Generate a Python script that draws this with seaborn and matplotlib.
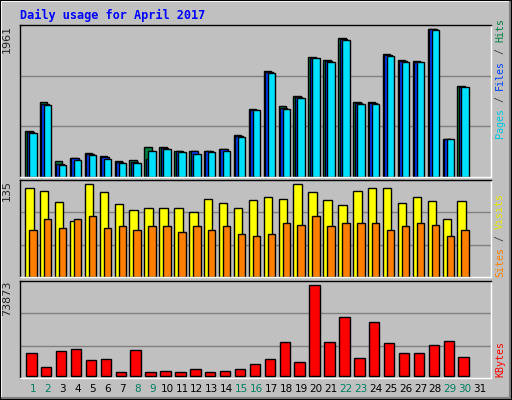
import numpy as np
import pandas as pd
import matplotlib
matplotlib.use("Agg")
import matplotlib.pyplot as plt
import seaborn as sns
from matplotlib.lines import Line2D

days = list(range(1, 31))
hits = [603, 989, 217, 257, 324, 284, 217, 231, 395, 395, 351, 351, 351, 377, 563,
        896, 1402, 936, 1069, 1588, 1549, 1841, 989, 989, 1628, 1549, 1535, 1961, 510, 1202]
files = [590, 970, 177, 250, 310, 265, 205, 205, 240, 385, 345, 340, 345, 365, 545,
         890, 1390, 915, 1058, 1580, 1535, 1830, 975, 975, 1615, 1535, 1528, 1955, 505, 1195]
pages = [577, 950, 164, 231, 297, 244, 191, 191, 351, 377, 337, 311, 337, 351, 524,
         883, 1375, 896, 1047, 1575, 1522, 1815, 962, 962, 1602, 1522, 1522, 1948, 497, 1189]
visits = [129, 125, 109, 82, 135, 123, 106, 98, 101, 101, 101, 95, 113, 107, 101,
          112, 117, 114, 135, 123, 112, 104, 125, 129, 129, 107, 117, 110, 84, 110]
sites = [68, 84, 71, 85, 88, 71, 74, 69, 74, 74, 65, 74, 68, 74, 62,
         60, 62, 79, 75, 88, 74, 78, 79, 79, 69, 74, 78, 75, 60, 68]
kbytes = [18872, 7549, 20490, 22107, 13211, 14019, 3505, 21298, 3505, 4314, 3505, 5931, 3505, 4314, 5931,
          9975, 14019, 27769, 11593, 73873, 27769, 47989, 14828, 43945, 26960, 18872, 18872, 25342, 28578, 15637]
weekend = [1, 2, 8, 9, 15, 16, 22, 23, 29, 30]

sns.set_style("white")
BG = "#C0C0C0"
fig = plt.figure(figsize=(5.12, 4.0), dpi=100, facecolor=BG)
W, H = 512, 400

def mkax(top, bottom):
    return fig.add_axes([20 / W, 1 - bottom / H, 471 / W, (bottom - top) / H], facecolor=BG)

ax1 = mkax(25, 177)
ax2 = mkax(180, 277)
ax3 = mkax(281, 378)

d = np.array(days, dtype=float)

def bars(ax, off, vals, color, width):
    sns.barplot(x=d + off, y=vals, native_scale=True, color=color, saturation=1,
                edgecolor="black", linewidth=1, width=width, ax=ax)

bars(ax1, -0.28, hits, "#008040", 0.5)
bars(ax1, -0.18, files, "#0040FF", 0.5)
bars(ax1, -0.01, pages, "#00E0FF", 0.5)
bars(ax2, -0.245, visits, "#FFFF00", 0.57)
bars(ax2, -0.01, sites, "#FF8000", 0.5)
bars(ax3, -0.11, kbytes, "#FF0000", 0.7)

lims = [(ax1, 0, 2014), (ax2, 0, 141), (ax3, -1618, 76838)]
for ax, lo, hi in lims:
    ax.set_xlim(0.13, 31.72)
    ax.set_ylim(lo, hi)
    for f in (1 / 3, 2 / 3):
        ax.axhline(lo + (hi - lo) * f, color="#808080", lw=1, zorder=0)
    ax.set_xticks([]); ax.set_yticks([])
    ax.set_xlabel(""); ax.set_ylabel("")
    for s in ("top", "left"):
        ax.spines[s].set_color("black"); ax.spines[s].set_linewidth(1)
    for s in ("bottom", "right"):
        ax.spines[s].set_color("white"); ax.spines[s].set_linewidth(1)

for ax, txt in [(ax1, "1961"), (ax2, "135"), (ax3, "73873")]:
    ax.text(-0.028, 1.0, txt, transform=ax.transAxes, rotation=90, ha="center", va="top",
            fontsize=8, family="DejaVu Sans")

def vlabel(pieces, y0_px):
    step = 6.0
    pos = 0
    for txt, col in pieces:
        fig.text(500 / W, 1 - (y0_px - pos * step) / H, txt, rotation=90, ha="center", va="bottom",
                 color=col, fontsize=7.2, family="DejaVu Sans Mono")
        pos += len(txt)

vlabel([("Pages", "#00C8E0"), (" / ", "#404040"), ("Files", "#0040FF"), (" / ", "#404040"), ("Hits", "#008040")], 138)
vlabel([("Sites", "#FF8000"), (" / ", "#404040"), ("Visits", "#E8E800")], 277)
vlabel([("KBytes", "#FF0000")], 377)

for i in range(1, 32):
    fig.text((33 + (i - 1) * 14.9) / W, 1 - 389 / H, str(i), ha="center", va="center",
             fontsize=7.5, color="#008060" if i in weekend else "black")

fig.text(20 / W, 1 - 15 / H, "Daily usage for April 2017", color="#0000FF", fontsize=8.6,
         family="DejaVu Sans Mono", fontweight="bold", ha="left", va="center")

fig.add_artist(Line2D([1 / W, 1 / W, 510 / W], [2 / H, 1 - 1 / H, 1 - 1 / H], color="white", lw=1.5, transform=fig.transFigure))
fig.add_artist(Line2D([1 / W, 510 / W, 510 / W], [2 / H, 2 / H, 1 - 1 / H], color="#808080", lw=1.5, transform=fig.transFigure))
fig.add_artist(Line2D([0, 1, 1, 0, 0], [0, 0, 1, 1, 0], color="black", lw=1.5, transform=fig.transFigure))

fig.savefig("out.png", dpi=100, facecolor=BG)
